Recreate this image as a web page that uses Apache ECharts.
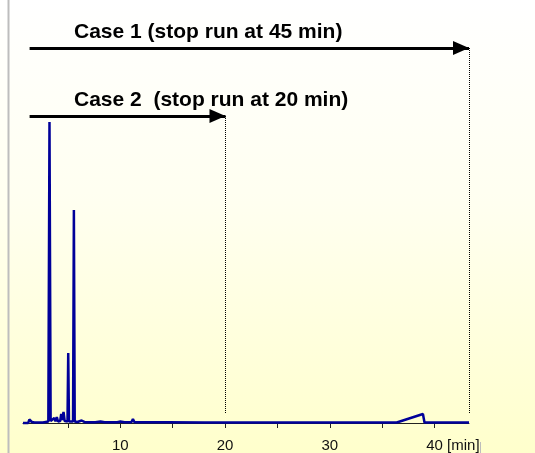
<!DOCTYPE html>
<html>
<head>
<meta charset="utf-8">
<script src="https://cdn.jsdelivr.net/npm/echarts@6/dist/echarts.min.js"></script>
<style>
html,body{margin:0;padding:0;background:#fff;}
#chart{width:535px;height:453px;}
</style>
</head>
<body>
<div id="chart"></div>
<script>
// Retention time (min) and detector signal (arbitrary units)
const times  = [0.7,1.2,1.3,1.4,1.55,1.8,2.6,3.12,3.23,3.34,3.5,3.7,3.8,3.93,4.05,4.25,4.35,4.45,4.57,4.68,4.95,5.02,5.09,5.48,5.56,5.64,5.9,6.3,6.6,7.6,8.1,8.5,9.7,10.0,10.4,11.05,11.2,11.35,12.5,14.2,14.35,14.5,18,24,30,36.4,38.9,39.05,43.3];
const signal = [0,0,3.5,4.5,1,0.5,0.5,1.5,301,2,1,5,1.5,6,1.5,2,9,3,11,2,1.5,70,1.5,1.5,213,1.5,1,2.5,0.8,0.8,1.5,0.8,0.8,1.5,0.8,0.8,4,0.8,0.8,0.8,2.5,0.8,0.5,0.5,0.5,0.5,9,0.5,0.5];
const tickValues  = [5,10,15,20,25,30,35,40];
const labelValues = [10,20,30,40];
const axisUnit = '[min]';
const caseTexts = ['Case 1 (stop run at 45 min)', 'Case 2  (stop run at 20 min)'];
const caseStops = [43.3, 20.04];   // where each arrow ends on the time axis
const caseLevels = [375, 307];     // arrow heights on the signal scale
const arrowStart = 1.33;
const dropBottom = 9;

const chart = echarts.init(document.getElementById('chart'));
const FONT = 'Arial, "Liberation Sans", sans-serif';

const markData = [];
caseStops.forEach((stop, i) => {
  markData.push([
    {coord: [arrowStart, caseLevels[i]], symbol: 'none', lineStyle: {type: 'solid', width: 3, color: '#000'}},
    {coord: [stop, caseLevels[i]], symbol: 'triangle', symbolSize: [14, 16], symbolOffset: [0, 8]}
  ]);
  markData.push([
    {coord: [stop, caseLevels[i]], symbol: 'none', lineStyle: {type: [1, 1], width: 1, color: '#000'}},
    {coord: [stop, dropBottom], symbol: 'none'}
  ]);
});

chart.setOption({
  animation: false,
  backgroundColor: {
    type: 'linear', x: 0, y: 0, x2: 0, y2: 1,
    colorStops: [{offset: 0, color: '#ffffff'}, {offset: 0.45, color: '#fffff0'}, {offset: 1, color: '#ffffcc'}]
  },
  grid: {left: 23, right: 66, top: 20, bottom: 24, containLabel: false, outerBoundsMode: 'none'},
  xAxis: {
    type: 'value', min: 0.7, max: 43.3,
    splitLine: {show: false},
    axisLine: {lineStyle: {color: '#222', width: 1}},
    axisTick: {show: true, customValues: tickValues, length: 5, lineStyle: {color: '#222'}},
    axisLabel: {
      customValues: labelValues, margin: 9, color: '#111', fontSize: 15, fontFamily: FONT,
      formatter: v => v === 40 ? '{pad|}' + v + ' ' + axisUnit : String(v),
      rich: {pad: {width: 37}}
    }
  },
  yAxis: {type: 'value', min: -6, max: 403, show: false},
  series: [{
    type: 'line',
    data: times.map((t, i) => [t, signal[i]]),
    showSymbol: false,
    lineStyle: {color: '#000099', width: 2.5},
    markLine: {
      silent: true,
      symbol: ['none', 'none'],
      label: {show: false},
      lineStyle: {color: '#000', width: 3, type: 'solid'},
      itemStyle: {color: '#000'},
      emphasis: {disabled: true},
      data: markData
    }
  }],
  graphic: [
    {type: 'line', shape: {x1: 8.5, y1: 0, x2: 8.5, y2: 453}, style: {stroke: '#bdbdbd', lineWidth: 2}, z: 10},
    {type: 'line', shape: {x1: 480.5, y1: 442, x2: 480.5, y2: 453}, style: {stroke: '#bdbdbd', lineWidth: 1}, z: 10},
    {type: 'text', left: 74, top: 22, style: {text: caseTexts[0], font: 'bold 21px ' + FONT, fill: '#000'}, z: 10},
    {type: 'text', left: 74, top: 90, style: {text: caseTexts[1], font: 'bold 21px ' + FONT, fill: '#000'}, z: 10}
  ]
});
</script>
</body>
</html>
